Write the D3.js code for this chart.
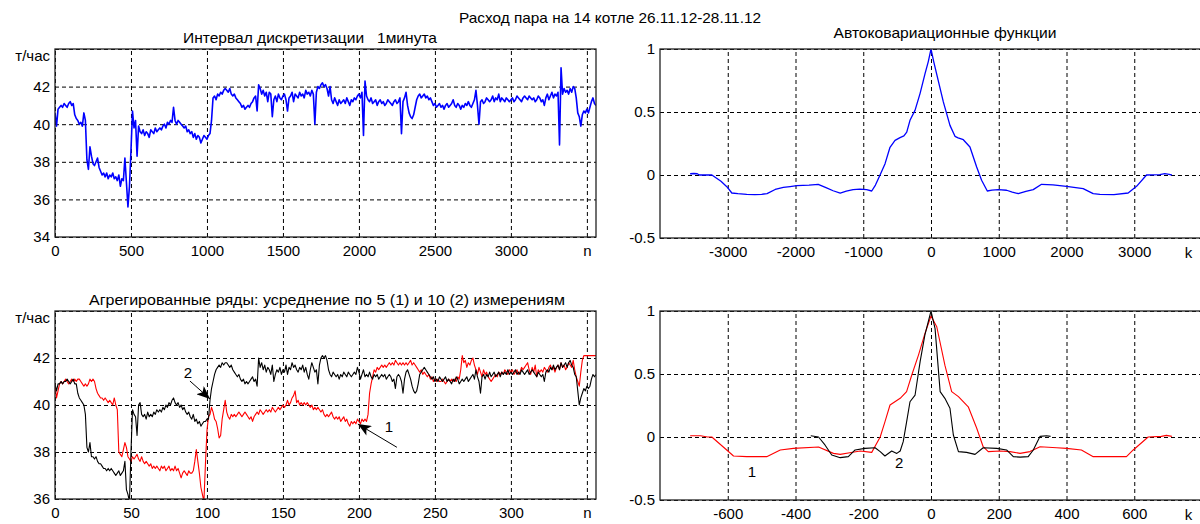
<!DOCTYPE html>
<html>
<head>
<meta charset="utf-8">
<script src="https://cdn.jsdelivr.net/npm/d3@7"></script>
<style>
  body { margin: 0; background: #fff; }
  text { font-family: "Liberation Sans", Arial, sans-serif; fill: #000; }
</style>
</head>
<body>
<div id="chart-area"></div>
<script>
// ---- data ----
let mainTitle = "Расход пара на 14 котле 26.11.12-28.11.12"
let titleRaw = "Интервал дискретизации   1минута"
let titleAcf = "Автоковариационные функции"
let titleAgg = "Агрегированные ряды: усреднение по 5 (1) и 10 (2) измерениям"
let unitLabel = "т/час"

// raw 1-minute series, one value every rawStep minutes
let rawStep = 10
let rawFlow = [
  40.6, 39.9, 40.8, 40.9, 41.0, 40.9, 41.1, 41.0, 40.9, 41.1,
  41.2, 41.0, 41.1, 40.5, 40.3, 40.2, 40.0, 40.1, 39.9, 40.6,
  40.2, 38.1, 37.6, 38.8, 38.3, 37.9, 37.8, 38.0, 38.2, 37.7,
  37.5, 37.3, 37.4, 37.2, 37.4, 37.1, 37.3, 37.2, 37.4, 37.1,
  37.2, 37.0, 37.3, 36.7, 37.1, 37.0, 38.2, 36.9, 35.6, 36.7,
  38.6, 40.7, 39.8, 40.2, 38.3, 39.9, 39.6, 39.5, 39.7, 39.4,
  39.6, 39.5, 39.3, 39.7, 39.6, 39.5, 39.8, 39.6, 39.7, 39.8,
  39.7, 39.9, 40.0, 39.8, 40.1, 40.0, 40.2, 40.1, 40.9, 40.2,
  40.0, 40.2, 40.1, 40.0, 39.9, 39.8, 39.9, 39.6, 39.7, 39.5,
  39.6, 39.3, 39.5, 39.2, 39.4, 39.3, 39.0, 39.2, 39.4, 39.3,
  39.2, 39.4, 39.5, 40.2, 41.4, 41.5, 41.3, 41.6, 41.5, 41.7,
  41.6, 41.8, 41.9, 41.8, 41.7, 41.9, 41.6, 41.5, 41.6, 41.4,
  41.3, 41.2, 41.1, 40.9, 41.0, 40.8, 40.9, 41.0, 40.9, 41.1,
  41.2, 41.4, 41.5, 40.7, 42.1, 41.9, 41.6, 41.8, 41.5, 41.7,
  41.2, 41.7, 41.6, 40.4, 41.3, 41.5, 41.2, 41.6, 41.4, 41.3,
  41.5, 41.6, 41.3, 40.7, 41.4, 41.5, 41.7, 41.2, 41.6, 41.5,
  41.4, 41.7, 41.5, 41.6, 41.4, 41.8, 41.6, 41.7, 41.5, 41.8,
  41.6, 40.0, 41.7, 42.0, 41.9, 42.1, 42.2, 42.0, 42.1, 41.9,
  41.5, 42.0, 41.3, 41.1, 41.4, 41.2, 41.0, 41.3, 41.1, 41.2,
  41.3, 41.1, 41.4, 41.2, 41.0, 41.3, 41.2, 41.4, 41.3, 41.5,
  41.6, 41.4, 41.7, 39.4, 42.3, 41.5, 41.3, 41.2, 41.4, 41.1,
  41.2, 41.3, 41.0, 41.2, 41.3, 41.1, 41.2, 41.0, 41.1, 41.3,
  41.2, 41.1, 41.0, 41.2, 41.3, 41.1, 41.2, 41.4, 39.5, 41.2,
  41.4, 41.7, 41.0, 40.6, 40.4, 40.3, 40.5, 40.9, 41.3, 41.5,
  41.6, 41.4, 41.5, 41.6, 41.4, 41.5, 41.3, 41.4, 41.2, 41.0,
  41.1, 40.9, 41.0, 41.1, 40.9, 41.0, 40.8, 41.0, 41.1, 40.9,
  41.0, 41.1, 41.3, 41.0, 40.9, 41.1, 41.0, 40.8, 41.0, 40.9,
  41.1, 41.0, 41.2, 41.0, 40.9, 41.1, 41.3, 41.8, 41.0, 40.0,
  41.2, 41.3, 41.1, 41.2, 41.4, 41.3, 41.2, 41.3, 41.5, 41.2,
  41.4, 41.3, 41.6, 41.2, 41.4, 41.3, 41.2, 41.4, 41.3, 41.2,
  41.3, 41.4, 41.2, 41.3, 41.5, 41.4, 41.3, 41.2, 41.4, 41.5,
  41.4, 41.3, 41.5, 41.4, 41.3, 41.4, 41.2, 41.3, 41.5, 41.4,
  41.2, 41.3, 41.0, 41.4, 41.6, 41.3, 41.5, 41.7, 41.4, 41.6,
  41.5, 41.7, 38.9, 43.0, 41.6, 41.9, 41.7, 41.8, 41.6, 41.9,
  41.7, 42.0, 41.9, 41.4, 40.6, 40.4, 39.9, 40.5, 40.7, 40.6,
  40.8, 40.6, 40.9, 41.2, 41.4, 41.1, 41.0
]

// series 2: averages over 10 measurements
let avg10 = [
  40.9, 40.6, 40.9, 40.9, 41.0, 40.9, 41.0, 41.0, 41.1, 41.0,
  40.9, 41.0, 41.1, 40.9, 40.9, 40.5, 40.3, 40.2, 40.1, 40.0,
  39.6, 38.2, 38.0, 38.4, 37.8, 37.8, 37.7, 37.8, 37.6, 37.5,
  37.5, 37.4, 37.3, 37.3, 37.2, 37.3, 37.2, 37.3, 37.2, 37.1,
  37.0, 37.1, 37.2, 37.0, 37.1, 37.2, 37.6, 36.4, 36.2, 35.9,
  38.0, 39.8, 39.6, 39.5, 38.7, 40.0, 40.1, 39.6, 39.5, 39.6,
  39.4, 39.7, 39.5, 39.6, 39.5, 39.7, 39.6, 39.8, 39.7, 39.8,
  39.7, 39.9, 39.8, 40.0, 39.9, 40.1, 40.0, 40.2, 40.3, 40.1,
  40.0, 40.1, 39.9, 40.0, 39.8, 39.9, 39.7, 39.6, 39.7, 39.5,
  39.4, 39.6, 39.3, 39.4, 39.2, 39.3, 39.1, 39.2, 39.3, 39.3,
  39.4, 39.4, 40.2, 40.7, 41.0, 41.3, 41.5, 41.6, 41.7, 41.6,
  41.8, 41.7, 41.8, 41.8, 41.7, 41.6, 41.7, 41.5, 41.4, 41.3,
  41.2, 41.3, 41.1, 41.0, 41.1, 40.9, 41.0, 40.9, 41.0, 41.1,
  41.2, 41.0, 41.1, 40.8, 42.0, 41.6, 41.8, 41.5, 41.7, 41.4,
  41.6, 41.5, 41.3, 41.7, 41.0, 41.3, 41.5, 41.4, 41.6, 41.3,
  41.5, 41.4, 41.7, 41.3, 41.6, 41.5, 41.8, 41.6, 41.7, 41.5,
  41.4, 41.6, 41.5, 41.7, 41.4, 41.6, 41.3, 41.1, 41.5, 41.8,
  41.6, 41.4, 41.5, 40.9, 41.7, 42.0, 42.1, 42.0, 42.1, 41.9,
  41.5, 41.3, 41.2, 41.4, 41.3, 41.2, 41.3, 41.1, 41.3, 41.2,
  41.4, 41.3, 41.2, 41.4, 41.3, 41.2, 41.3, 41.4, 41.3, 41.6,
  41.4, 41.1, 41.3, 41.5, 41.2, 41.3, 41.2, 41.4, 41.2, 41.1,
  41.3, 41.2, 41.3, 41.1, 41.2, 41.3, 41.2, 41.3, 41.1, 41.2,
  41.3, 41.2, 41.0, 41.1, 40.7, 41.2, 41.3, 41.2, 41.0, 40.5,
  41.1, 41.4, 41.5, 41.3, 41.1, 40.8, 40.6, 40.5, 40.6, 40.9,
  41.3, 41.4, 41.5, 41.6, 41.5, 41.4, 41.3, 41.2, 41.1, 41.2,
  41.0, 41.1, 41.0, 41.2, 41.1, 41.0, 41.1, 41.2, 41.0, 41.1,
  41.0, 40.9, 41.1, 41.0, 41.2, 41.1, 40.9, 41.0, 41.1, 41.0,
  41.1, 41.2, 41.0, 41.1, 41.2, 41.3, 41.1, 41.5, 41.2, 41.0,
  40.5, 41.2, 41.3, 41.1, 41.3, 41.2, 41.4, 41.2, 41.3, 41.4,
  41.2, 41.3, 41.4, 41.2, 41.4, 41.3, 41.4, 41.3, 41.5, 41.3,
  41.4, 41.3, 41.4, 41.5, 41.3, 41.4, 41.3, 41.5, 41.4, 41.3,
  41.4, 41.5, 41.3, 41.4, 41.5, 41.4, 41.3, 41.2, 41.4, 41.3,
  41.2, 41.3, 41.0, 41.4, 41.5, 41.4, 41.6, 41.5, 41.7, 41.5,
  41.6, 41.7, 41.5, 41.8, 41.6, 41.7, 41.8, 41.6, 41.8, 41.9,
  41.7, 41.6, 41.3, 41.2, 40.6, 40.0, 40.3, 40.5, 40.7, 40.6,
  40.8, 40.7, 40.8, 41.1, 41.3, 41.2, 41.3
]

// series 1: averages over 5 measurements (first half shown)
let avg5 = [
  40.9, 40.3, 40.6, 40.9, 41.0, 40.9, 41.0, 41.1, 41.0, 40.9,
  41.0, 41.1, 41.0, 41.1, 41.0, 41.1, 41.1, 41.0, 40.9, 40.8,
  40.9, 40.8, 40.9, 41.1, 41.0, 41.1, 41.0, 40.7, 40.5, 40.4,
  40.3, 40.3, 40.2, 40.3, 40.2, 40.1, 40.2, 40.1, 40.0, 40.3,
  40.0, 39.8, 38.0, 37.9, 37.8, 38.1, 38.4, 38.2, 37.8, 37.7,
  37.6, 37.8, 37.7, 37.8, 37.9, 37.7, 37.6, 37.8, 37.6, 37.5,
  37.6, 37.5, 37.4, 37.5, 37.3, 37.4, 37.3, 37.4, 37.3, 37.2,
  37.4, 37.3, 37.4, 37.2, 37.3, 37.4, 37.2, 37.3, 37.2, 37.4,
  37.2, 37.3, 37.1, 36.9, 37.1, 37.2, 37.1, 37.0, 37.2, 37.1,
  37.1, 37.2, 37.6, 38.1, 37.6, 37.1, 36.5, 36.2, 35.9, 37.5,
  38.9, 39.5, 39.6, 39.9, 39.7, 39.4, 39.3, 39.0, 38.6, 38.7,
  39.4, 39.8, 40.2, 39.7, 39.5, 39.4, 39.6, 39.5, 39.6, 39.5,
  39.6, 39.7, 39.6, 39.5, 39.6, 39.7, 39.6, 39.5, 39.4, 39.5,
  39.3, 39.5, 39.6, 39.7, 39.6, 39.8, 39.7, 39.6, 39.7, 39.8,
  39.7, 39.8, 39.7, 39.9, 39.8, 39.7, 39.8, 39.9, 39.8, 39.9,
  40.0, 39.9, 40.0, 40.2, 40.0, 40.1, 40.3, 40.4, 40.6, 40.1,
  40.2, 40.0, 40.1, 40.0, 40.1, 40.0, 40.1, 40.0, 39.9, 40.0,
  39.8, 39.9, 39.8, 39.9, 39.8, 39.7, 39.8, 39.6, 39.5, 39.6,
  39.5, 39.6, 39.7, 39.5, 39.4, 39.5, 39.4, 39.5, 39.3, 39.4,
  39.5, 39.3, 39.4, 39.2, 39.1, 39.3, 39.2, 39.3, 39.2, 39.4,
  39.3, 39.2, 39.4, 39.3, 39.4, 39.3, 39.6, 40.5, 40.9, 41.2,
  41.5, 41.4, 41.6, 41.5, 41.6, 41.7, 41.6, 41.7, 41.6, 41.7,
  41.8, 41.7, 41.8, 41.7, 41.9, 41.8, 41.7, 41.8, 41.7, 41.8,
  41.7, 41.8, 41.7, 41.8, 41.9, 41.7, 41.8, 41.7, 41.6, 41.5,
  41.4, 41.5, 41.3, 41.4, 41.3, 41.2, 41.3, 41.1, 41.2, 41.0,
  41.1, 41.0, 41.1, 41.0, 41.0, 41.1, 41.0, 40.9, 41.0, 41.1,
  41.0, 41.1, 41.0, 41.1, 41.0, 41.2, 41.1, 41.5, 42.1, 41.8,
  41.9, 41.6, 41.8, 41.7, 41.9, 42.0, 41.7, 41.5, 41.3, 41.6,
  41.4, 41.2, 41.5, 41.3, 41.4, 41.2, 41.1, 41.0, 41.1, 41.2,
  41.3, 41.2, 41.4, 41.3, 41.4, 41.3, 41.5, 41.4, 41.3, 41.5,
  41.4, 41.5, 41.3, 41.4, 41.5, 41.3, 41.4, 41.6, 41.5, 41.6,
  41.7, 41.8, 41.5, 41.3, 41.6, 41.4, 41.7, 41.2, 41.5, 41.4,
  41.5, 41.4, 41.6, 41.5, 41.4, 41.6, 41.7, 41.5, 41.6, 41.4,
  41.6, 41.7, 41.5, 41.8, 41.6, 41.7, 41.5, 41.6, 41.8, 41.7,
  41.6, 41.9, 41.5, 41.2, 41.0, 40.8, 41.4, 41.9, 42.1, 42.1,
  42.1, 42.1, 42.1, 42.1, 42.1, 42.1, 42.1
]

// autocovariance of the raw series (blue)
let acfRawK = [-3555, -3500, -3450, -3420, -3234, -3100, -3010, -2940, -2850, -2720, -2600, -2500, -2420, -2300, -2180, -2080, -1980, -1800, -1665, -1550, -1445, -1340, -1250, -1150, -1050, -950, -875, -820, -752, -678, -605, -531, -457, -400, -358, -310, -236, -162, -88, -40, 0, 40, 84, 182, 280, 354, 400, 477, 575, 674, 747, 831, 900, 993, 1116, 1200, 1288, 1400, 1509, 1632, 1800, 2000, 2246, 2394, 2493, 2700, 2910, 3034, 3181, 3378, 3451, 3515, 3555]
let acfRawV = [0.01, 0.012, 0.01, 0.0, 0.0, -0.05, -0.095, -0.143, -0.148, -0.153, -0.155, -0.153, -0.148, -0.115, -0.098, -0.092, -0.085, -0.08, -0.074, -0.1, -0.125, -0.143, -0.128, -0.116, -0.112, -0.116, -0.127, -0.08, 0.0, 0.09, 0.22, 0.275, 0.297, 0.31, 0.34, 0.434, 0.513, 0.646, 0.805, 0.9, 1.0, 0.9, 0.8, 0.58, 0.394, 0.307, 0.295, 0.28, 0.222, 0.063, -0.042, -0.127, -0.12, -0.116, -0.121, -0.135, -0.148, -0.13, -0.116, -0.074, -0.078, -0.09, -0.108, -0.148, -0.153, -0.155, -0.143, -0.09, 0.0, 0.003, 0.011, 0.005, 0.0]

// autocovariance of series 1 (red)
let acf5K = [-711, -680, -660, -647, -603, -583, -544, -485, -445, -406, -332, -288, -268, -240, -209, -175, -150, -136, -121, -101, -91, -72, -57, -37, -18, 0, 17, 41, 61, 81, 110, 135, 154, 169, 204, 233, 263, 292, 322, 371, 400, 444, 479, 538, 577, 597, 641, 680, 695, 711]
let acf5V = [0.01, 0.01, 0.0, 0.0, -0.103, -0.151, -0.156, -0.156, -0.103, -0.09, -0.079, -0.13, -0.138, -0.125, -0.111, -0.122, 0.0, 0.12, 0.254, 0.29, 0.307, 0.36, 0.49, 0.65, 0.82, 0.96, 0.875, 0.57, 0.36, 0.32, 0.24, 0.069, -0.077, -0.116, -0.111, -0.116, -0.13, -0.116, -0.077, -0.085, -0.09, -0.103, -0.156, -0.156, -0.156, -0.103, 0.0, 0.005, 0.013, 0.005]

// autocovariance of series 2 (black)
let acf10K = [-355, -332, -313, -293, -268, -244, -224, -195, -165, -150, -136, -116, -101, -91, -82, -72, -62, -47, -32, -18, 0, 12, 27, 41, 56, 66, 81, 105, 130, 154, 194, 223, 243, 263, 287, 302, 322, 341, 353]
let acf10V = [0.01, 0.0, -0.063, -0.143, -0.164, -0.156, -0.103, -0.09, -0.085, -0.116, -0.151, -0.111, -0.13, -0.111, -0.037, 0.12, 0.28, 0.333, 0.6, 0.81, 1.0, 0.86, 0.36, 0.307, 0.228, 0.016, -0.116, -0.122, -0.138, -0.085, -0.09, -0.103, -0.156, -0.16, -0.156, -0.103, 0.005, 0.01, 0.005]

// ticks
let rawTicksX = [0, 500, 1000, 1500, 2000, 2500, 3000, 3500]
let aggTicksX = [0, 50, 100, 150, 200, 250, 300, 350]
let flowTicksTop = [34, 36, 38, 40, 42, 44]
let flowTicksBottom = [36, 38, 40, 42, 44]
let acfTicksY = [-0.5, 0, 0.5, 1]
let acfRawTicksX = [-3000, -2000, -1000, 0, 1000, 2000, 3000]
let acfAggTicksX = [-600, -400, -200, 0, 200, 400, 600]

// ---- drawing ----
let width = 1200
let height = 524

let svg = d3.select("#chart-area").append("svg")
  .attr("width", width)
  .attr("height", height)

svg.append("defs").append("marker")
  .attr("id", "arrow")
  .attr("markerUnits", "userSpaceOnUse")
  .attr("viewBox", "0 0 12 10")
  .attr("refX", 12).attr("refY", 5)
  .attr("markerWidth", 14).attr("markerHeight", 11)
  .attr("orient", "auto")
  .append("path")
    .attr("d", "M0,0 L12,5 L0,10 L3,5 Z")
    .attr("fill", "#000")

let clipId = 0

function panel(box, xDomain, yDomain, xTicks, yTicks, xFmt, yFmt) {
  let x = d3.scaleLinear().domain(xDomain).range([box.left, box.right])
  let y = d3.scaleLinear().domain(yDomain).range([box.bottom, box.top])
  let g = svg.append("g")

  clipId += 1
  svg.select("defs").append("clipPath").attr("id", "clip" + clipId)
    .append("rect")
      .attr("x", box.left).attr("y", box.top)
      .attr("width", box.right - box.left).attr("height", box.bottom - box.top)

  // dashed grid
  let gx = g.append("g")
    .attr("transform", "translate(0," + box.bottom + ")")
    .call(d3.axisBottom(x).tickValues(xTicks).tickSize(-(box.bottom - box.top)).tickFormat(""))
  let gy = g.append("g")
    .attr("transform", "translate(" + box.left + ",0)")
    .call(d3.axisLeft(y).tickValues(yTicks).tickSize(-(box.right - box.left)).tickFormat(""))
  ;[gx, gy].forEach(a => {
    a.select(".domain").remove()
    a.selectAll("line").attr("stroke", "#000").attr("stroke-width", 1).attr("stroke-dasharray", "4,3")
  })

  // tick labels
  let lx = g.append("g")
    .attr("transform", "translate(0," + box.bottom + ")")
    .call(d3.axisBottom(x).tickValues(xTicks).tickSize(0).tickPadding(8).tickFormat(xFmt))
  let ly = g.append("g")
    .attr("transform", "translate(" + box.left + ",0)")
    .call(d3.axisLeft(y).tickValues(yTicks).tickSize(0).tickPadding(5).tickFormat(yFmt))
  ;[lx, ly].forEach(a => {
    a.select(".domain").remove()
    a.selectAll("text").attr("font-size", 15).attr("fill", "#000")
      .attr("font-family", "'Liberation Sans', Arial, sans-serif")
  })

  let plot = g.append("g").attr("clip-path", "url(#clip" + clipId + ")")

  g.append("rect")
    .attr("x", box.left).attr("y", box.top)
    .attr("width", box.right - box.left).attr("height", box.bottom - box.top)
    .attr("fill", "none").attr("stroke", "#222").attr("stroke-width", 1.3)

  return { x: x, y: y, g: g, plot: plot }
}

function drawLine(p, xs, ys, color, w) {
  let pts = ys.map((v, i) => [xs[i], v])
  p.plot.append("path")
    .datum(pts)
    .attr("fill", "none")
    .attr("stroke", color)
    .attr("stroke-width", w)
    .attr("stroke-linejoin", "round")
    .attr("d", d3.line().x(d => p.x(d[0])).y(d => p.y(d[1])))
}

let plain = d => String(d)

// top left: raw series
let pRaw = panel({ left: 55, right: 596, top: 49, bottom: 237 },
  [0, 3560], [34, 44], rawTicksX, flowTicksTop,
  d => d === 3500 ? "n" : String(d),
  d => d === 44 ? "" : String(d))
drawLine(pRaw, rawFlow.map((v, i) => i * rawStep), rawFlow, "#0000ff", 1.6)

// top right: autocovariance of the raw series
let pAcf = panel({ left: 660, right: 1202, top: 49, bottom: 238 },
  [-4000, 4000], [-0.5, 1], acfRawTicksX, acfTicksY, plain, plain)
drawLine(pAcf, acfRawK, acfRawV, "#0000ff", 1.3)

// bottom left: aggregated series
let pAgg = panel({ left: 55, right: 596, top: 311, bottom: 499 },
  [0, 356], [36, 44], aggTicksX, flowTicksBottom,
  d => d === 350 ? "n" : String(d),
  d => d === 44 ? "" : String(d))
drawLine(pAgg, avg5.map((v, i) => i), avg5, "#ff0000", 1.1)
drawLine(pAgg, avg10.map((v, i) => i), avg10, "#000000", 1.1)

// bottom right: autocovariances of the aggregated series
let pAcfAgg = panel({ left: 660, right: 1202, top: 311, bottom: 500 },
  [-800, 800], [-0.5, 1], acfAggTicksX, acfTicksY, plain, plain)
drawLine(pAcfAgg, acf5K, acf5V, "#ff0000", 1.1)
drawLine(pAcfAgg, acf10K, acf10V, "#000000", 1.1)

// titles
let titles = [
  { t: mainTitle, x: 610, y: 17, w: 302 },
  { t: titleRaw, x: 310, y: 37, w: 254 },
  { t: titleAcf, x: 945, y: 32, w: 223 },
  { t: titleAgg, x: 327, y: 299, w: 476 }
]
svg.selectAll(".title").data(titles).enter().append("text")
  .attr("class", "title")
  .attr("x", d => d.x).attr("y", d => d.y)
  .attr("text-anchor", "middle")
  .attr("dominant-baseline", "central")
  .attr("font-size", 15)
  .attr("textLength", d => d.w)
  .attr("lengthAdjust", "spacingAndGlyphs")
  .style("white-space", "pre")
  .text(d => d.t)

// unit labels at the top of the flow axes
;[pRaw, pAgg].forEach(p => {
  svg.append("text")
    .attr("x", p.x.range()[0] - 5)
    .attr("y", p.y.range()[1] + 6)
    .attr("text-anchor", "end")
    .attr("dominant-baseline", "central")
    .attr("font-size", 15)
    .text(unitLabel)
})

// "k" axis names
;[[pAcf, 3800], [pAcfAgg, 760]].forEach(([p, k]) => {
  svg.append("text")
    .attr("x", p.x(k)).attr("y", p.y.range()[0] + 14)
    .attr("text-anchor", "middle")
    .attr("dominant-baseline", "central")
    .attr("font-size", 15)
    .text("k")
})

// curve labels with arrows on the aggregated panel
let aggNotes = [
  { label: "2", lx: 87.5, ly: 41.4, fx: 88.8, fy: 41.02, tx: 102, ty: 40.26 },
  { label: "1", lx: 219.7, ly: 39.1, fx: 225, fy: 38.2, tx: 199.3, ty: 39.19 }
]
aggNotes.forEach(n => {
  svg.append("line")
    .attr("x1", pAgg.x(n.fx)).attr("y1", pAgg.y(n.fy))
    .attr("x2", pAgg.x(n.tx)).attr("y2", pAgg.y(n.ty))
    .attr("stroke", "#000").attr("stroke-width", 1)
    .attr("marker-end", "url(#arrow)")
  svg.append("text")
    .attr("x", pAgg.x(n.lx)).attr("y", pAgg.y(n.ly))
    .attr("text-anchor", "middle")
    .attr("dominant-baseline", "central")
    .attr("font-size", 15)
    .text(n.label)
})

// curve labels on the autocovariance panel
let acfNotes = [
  { label: "1", k: -529, v: -0.27 },
  { label: "2", k: -94, v: -0.2 }
]
acfNotes.forEach(n => {
  svg.append("text")
    .attr("x", pAcfAgg.x(n.k)).attr("y", pAcfAgg.y(n.v))
    .attr("text-anchor", "middle")
    .attr("dominant-baseline", "central")
    .attr("font-size", 15)
    .attr("fill", "#1a1a50")
    .text(n.label)
})
</script>
</body>
</html>
